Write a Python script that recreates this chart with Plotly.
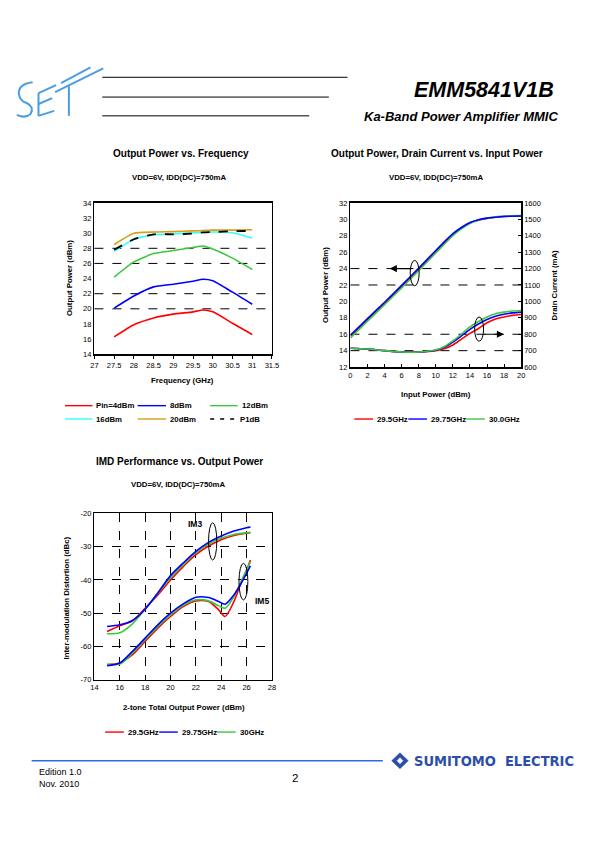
import plotly.graph_objects as go

# page is 595x842; the HTML body has an 8px margin, so the figure is 579x826 placed at (8, 8)
PAGE_W, PAGE_H = 595, 842
OFF = 8
W, H = PAGE_W - 2 * OFF, PAGE_H - 2 * OFF
def X(px): return (px - OFF) / W
def Y(py): return 1 - (py - OFF) / H

FONT = "Liberation Sans"
RED, BLUE, GREEN, CYAN, ORANGE = "#ff0000", "#0000ff", "#3cc83c", "#33ffff", "#d4a017"

# ---------------- Chart 1 data ----------------
freq = [27.5, 28, 28.5, 29, 29.5, 29.75, 30, 30.5, 31]
pout_4dbm = [16.3, 17.9, 18.8, 19.3, 19.6, 19.85, 19.6, 18.1, 16.6]
pout_8dbm = [20.1, 21.7, 22.9, 23.25, 23.65, 23.9, 23.7, 22.2, 20.6]
pout_12dbm = [24.2, 26.2, 27.3, 27.7, 28.1, 28.3, 27.9, 26.7, 25.2]
pout_16dbm = [27.6, 29.2, 29.8, 29.9, 30.05, 30.1, 30.15, 30.05, 29.35]
pout_20dbm = [28.5, 30.0, 30.15, 30.2, 30.3, 30.35, 30.4, 30.4, 30.45]
p1db = [27.8, 29.2, 29.85, 29.85, 29.95, 30.1, 30.15, 30.25, 30.3]
c1_grid = [20, 22, 26, 28]
c1_legend = ["Pin=4dBm", "8dBm", "12dBm", "16dBm", "20dBm", "P1dB"]

# ---------------- Chart 2 data ----------------
pin_out = [0, 2, 4, 6, 8, 10, 12, 13, 14, 15, 16, 17, 18, 20]
pout_295 = [15.75, 17.75, 19.75, 21.8, 23.9, 26.0, 28.1, 28.95, 29.55, 29.9, 30.1, 30.25, 30.35, 30.4]
pout_2975 = [15.9, 17.9, 19.9, 21.95, 24.05, 26.2, 28.25, 29.0, 29.6, 29.95, 30.15, 30.25, 30.35, 30.4]
pout_300 = [15.55, 17.6, 19.6, 21.65, 23.75, 25.9, 28.0, 28.85, 29.5, 29.9, 30.15, 30.3, 30.4, 30.45]
pin_id = [0, 2, 4, 6, 8, 10, 11, 12, 13, 14, 15, 16, 17, 18, 19, 20]
id_295 = [715, 710, 700, 692, 692, 700, 712, 735, 770, 805, 835, 870, 893, 905, 915, 920]
id_2975 = [715, 710, 700, 692, 692, 703, 720, 752, 790, 830, 862, 890, 910, 922, 930, 935]
id_300 = [715, 710, 700, 692, 692, 705, 725, 760, 800, 845, 878, 905, 925, 935, 942, 945]
c2_grid = [14, 16, 22, 24]
c2_legend = ["29.5GHz", "29.75GHz", "30.0GHz"]

# ---------------- Chart 3 data ----------------
pout_im3 = [15, 16, 17, 18, 19, 20, 21, 22, 23, 24, 25, 26, 26.3]
im3_295 = [-55.5, -53.8, -52.3, -48.5, -44.5, -40.0, -36.0, -32.4, -29.8, -27.9, -26.6, -25.9, -25.8]
im3_2975 = [-54.0, -53.5, -52.2, -48.8, -43.9, -38.7, -34.9, -31.4, -28.7, -26.8, -25.3, -24.3, -24.1]
im3_30 = [-56.2, -55.9, -53.2, -48.8, -44.0, -39.3, -35.4, -31.8, -29.2, -27.4, -26.3, -25.8, -25.7]
pout_im5 = [15, 16, 17, 18, 19, 20, 21, 22, 23, 23.8, 24.3, 25, 25.5, 26, 26.3]
im5_295 = [-65.5, -65.0, -62.5, -58.5, -54.5, -51.0, -48.0, -46.3, -46.5, -49.0, -51.0, -46.5, -41.5, -37.0, -34.0]
im5_2975 = [-65.8, -65.0, -61.5, -57.5, -53.5, -50.0, -47.2, -45.2, -45.3, -46.5, -47.3, -44.5, -41.5, -38.0, -35.8]
im5_30 = [-65.3, -65.3, -62.0, -58.0, -54.0, -50.5, -47.6, -46.0, -46.3, -47.8, -48.5, -45.0, -41.0, -37.0, -34.5]
c3_yticks = [-70, -60, -50, -40, -30, -20]
c3_yticklabels = ["-70", "-60", "-50", "-40", "-30", "-20"]
c3_legend = ["29.5GHz", "29.75GHz", "30GHz"]

fig = go.Figure()

def add(x, y, color, xa, ya, dash=None, smooth=0.6, width=1.6):
    fig.add_trace(go.Scatter(x=x, y=y, mode="lines", xaxis=xa, yaxis=ya, showlegend=False,
                             hoverinfo="skip",
                             line=dict(color=color, width=width, dash=dash, shape="spline", smoothing=smooth)))

# chart 1
add(freq, pout_4dbm, RED, "x", "y", smooth=0.5)
add(freq, pout_8dbm, BLUE, "x", "y", smooth=0.5)
add(freq, pout_12dbm, GREEN, "x", "y", smooth=0.5)
add(freq, pout_16dbm, CYAN, "x", "y", smooth=0.5)
add(freq, pout_20dbm, ORANGE, "x", "y", smooth=0.5)
add(freq, p1db, "black", "x", "y", dash="dash", smooth=0.5, width=1.8)
# chart 2
add(pin_out, pout_295, RED, "x2", "y2", smooth=0.8)
add(pin_out, pout_300, GREEN, "x2", "y2", smooth=0.8)
add(pin_out, pout_2975, BLUE, "x2", "y2", smooth=0.8)
add(pin_id, id_295, RED, "x2", "y3", smooth=0.8)
add(pin_id, id_2975, BLUE, "x2", "y3", smooth=0.8)
add(pin_id, id_300, GREEN, "x2", "y3", smooth=0.8)
# chart 3
add(pout_im3, im3_295, RED, "x3", "y4", smooth=0.8)
add(pout_im3, im3_30, GREEN, "x3", "y4", smooth=0.8)
add(pout_im3, im3_2975, BLUE, "x3", "y4", smooth=0.8)
add(pout_im5, im5_295, RED, "x3", "y4", smooth=0.8)
add(pout_im5, im5_30, GREEN, "x3", "y4", smooth=0.8)
add(pout_im5, im5_2975, BLUE, "x3", "y4", smooth=0.8)

tf = dict(family=FONT, size=7.5, color="black")
ax_common = dict(showline=True, linecolor="black", linewidth=1.5, mirror=True, zeroline=False,
                 showgrid=False, tickfont=tf, ticklen=3, tickcolor="black", fixedrange=True)

fig.update_layout(
    width=W, height=H, margin=dict(l=0, r=0, t=0, b=0),
    paper_bgcolor="white", plot_bgcolor="white", font=dict(family=FONT, color="black"),
    xaxis=dict(ax_common, domain=[X(92), X(273)], range=[27, 31.5], dtick=0.5, anchor="y", ticks="outside"),
    yaxis=dict(ax_common, domain=[Y(354), Y(201)], range=[14, 34], dtick=2, anchor="x", ticks=""),
    xaxis2=dict(ax_common, domain=[X(353), X(527)], range=[0, 20], dtick=2, anchor="y2", ticks="inside"),
    yaxis2=dict(ax_common, domain=[Y(367), Y(201)], range=[12, 32], dtick=2, anchor="x2", ticks=""),
    yaxis3=dict(ax_common, range=[600, 1600], dtick=100, overlaying="y2", side="right", anchor="x2",
                ticks="inside", mirror=False),
    xaxis3=dict(ax_common, domain=[X(92), X(273)], range=[14, 28], dtick=2, anchor="y4", ticks="",
                showgrid=True, gridcolor="black", griddash="dash", gridwidth=1),
    yaxis4=dict(ax_common, domain=[Y(683), Y(515)], range=[-70, -20], tickvals=c3_yticks,
                ticktext=c3_yticklabels, anchor="x3", ticks="",
                showgrid=True, gridcolor="black", griddash="dash", gridwidth=1),
)

shapes = []
for g in c1_grid:
    shapes.append(dict(type="line", xref="x domain", yref="y", x0=0, x1=1, y0=g, y1=g,
                       line=dict(color="black", width=1, dash="dash"), layer="below"))
for g in c2_grid:
    shapes.append(dict(type="line", xref="x2 domain", yref="y2", x0=0, x1=1, y0=g, y1=g,
                       line=dict(color="black", width=1, dash="dash"), layer="below"))
# chart 2 marker ellipses
shapes.append(dict(type="circle", xref="x2", yref="y2", x0=7.0, x1=8.05, y0=21.9, y1=25.0,
                   line=dict(color="black", width=1)))
shapes.append(dict(type="circle", xref="x2", yref="y2", x0=14.55, x1=15.6, y0=15.15, y1=18.1,
                   line=dict(color="black", width=1)))
# chart 3 marker ellipses
shapes.append(dict(type="circle", xref="x3", yref="y4", x0=23.0, x1=23.65, y0=-34.0, y1=-22.8,
                   line=dict(color="black", width=1)))
shapes.append(dict(type="circle", xref="x3", yref="y4", x0=25.4, x1=26.1, y0=-46.0, y1=-35.0,
                   line=dict(color="black", width=1)))

anns = []
def text(px, py, s, size=7.5, bold=True, xanchor="center", angle=0, italic=False, color="black", family=FONT):
    t = s
    if bold: t = "<b>" + t + "</b>"
    if italic: t = "<i>" + t + "</i>"
    anns.append(dict(x=X(px), y=Y(py), xref="paper", yref="paper", text=t, showarrow=False,
                     xanchor=xanchor, yanchor="middle", textangle=angle,
                     font=dict(family=family, size=size, color=color)))

# chart 2 arrows
anns.append(dict(x=4.6, y=24, ax=7.3, ay=24, xref="x2", yref="y2", axref="x2", ayref="y2", text="",
                 showarrow=True, arrowhead=2, arrowsize=1.2, arrowwidth=1.2, arrowcolor="black"))
anns.append(dict(x=18.0, y=16, ax=15.5, ay=16, xref="x2", yref="y2", axref="x2", ayref="y2", text="",
                 showarrow=True, arrowhead=2, arrowsize=1.2, arrowwidth=1.2, arrowcolor="black"))
# chart 3 labels
anns.append(dict(x=21.9, y=-23.2, xref="x3", yref="y4", text="<b>IM3</b>", showarrow=False,
                 font=dict(family=FONT, size=8.5)))
anns.append(dict(x=27.2, y=-46.3, xref="x3", yref="y4", text="<b>IM5</b>", showarrow=False,
                 font=dict(family=FONT, size=8.5)))

# titles
text(180, 151, "Output Power vs. Frequency", size=10)
text(179, 175, "VDD=6V, IDD(DC)=750mA", size=7.8)
text(441, 151, "Output Power, Drain Current vs. Input Power", size=10)
text(441, 175, "VDD=6V, IDD(DC)=750mA", size=7.8)
text(179, 462, "IMD Performance vs. Output Power", size=10)
text(178, 486, "VDD=6V, IDD(DC)=750mA", size=7.8)

# axis titles
text(182, 381, "Frequency (GHz)", size=7.8)
text(66, 277, "Output Power (dBm)", size=7.8, angle=-90)
text(440, 395, "Input Power (dBm)", size=7.8)
text(328, 284, "Output Power (dBm)", size=7.8, angle=-90)
text(561, 284, "Drain Current (mA)", size=7.8, angle=-90)
text(183, 711, "2-tone Total Output Power (dBm)", size=7.8)
text(64, 600, "Inter-modulation Distortion (dBc)", size=7.8, angle=-90)

# legends (drawn)
def leg(x0, x1, py, color, label, dash=None):
    shapes.append(dict(type="line", xref="paper", yref="paper", x0=X(x0), x1=X(x1), y0=Y(py), y1=Y(py),
                       line=dict(color=color, width=1.4, dash=dash)))
    text(x1 + 2, py, label, size=7.8, xanchor="left")

leg(62, 90, 406, RED, c1_legend[0])
leg(136, 165, 406, BLUE, c1_legend[1])
leg(210, 238, 406, GREEN, c1_legend[2])
leg(62, 90, 419.5, CYAN, c1_legend[3])
leg(136, 165, 419.5, ORANGE, c1_legend[4])
leg(210, 236, 419.5, "black", c1_legend[5], dash="4px,6px")

leg(357, 376, 419.5, RED, c2_legend[0])
leg(412, 431, 419.5, BLUE, c2_legend[1])
leg(471, 490, 419.5, GREEN, c2_legend[2])

leg(103, 122, 736, RED, c3_legend[0])
leg(158, 177, 736, BLUE, c3_legend[1])
leg(217, 236, 736, GREEN, c3_legend[2])

# header
for (xa, xb, yy) in [(100, 350, 74), (100, 331, 94), (100, 311, 113)]:
    shapes.append(dict(type="line", xref="paper", yref="paper", x0=X(xa), x1=X(xb), y0=Y(yy), y1=Y(yy),
                       line=dict(color="black", width=1)))
text(563, 87, "EMM5841V1B", size=21.5, xanchor="right", italic=True)
text(567, 114, "Ka-Band Power Amplifier MMIC", size=13, xanchor="right", italic=True)

def path(pts_cmds):
    out = []
    for c in pts_cmds:
        if isinstance(c, str):
            out.append(c)
        else:
            out.append(f"{X(c[0]):.5f},{Y(c[1]):.5f}")
    return " ".join(out)

LOGO = "#4a9de0"
logo_paths = [
    ["M", (29, 79), "Q", (14, 81), (15, 91), "Q", (16, 98), (23, 100), "Q", (31, 104), (27, 111), "Q", (22, 116), (13, 112)],
    ["M", (35, 90), "L", (35, 113)],
    ["M", (35, 90), "L", (53, 82)],
    ["M", (35, 101), "L", (49, 95)],
    ["M", (35, 113), "L", (51, 108)],
    ["M", (66, 83), "L", (66, 113)],
    ["M", (52, 89), "L", (101, 65)],
    ["M", (58, 80), "L", (88, 64)],
]
for p in logo_paths:
    shapes.append(dict(type="path", xref="paper", yref="paper", path=path(p),
                       line=dict(color=LOGO, width=2)))

# footer
shapes.append(dict(type="line", xref="paper", yref="paper", x0=X(28), x1=X(386), y0=Y(765), y1=Y(765),
                   line=dict(color="#3366ee", width=1.6)))
SUMI = "#2b4fa8"
shapes.append(dict(type="path", xref="paper", yref="paper",
                   path=path(["M", (395, 765), "L", (403.5, 757), "L", (412, 765), "L", (403.5, 773), "Z"]),
                   fillcolor=SUMI, line=dict(color=SUMI, width=0.5)))
shapes.append(dict(type="path", xref="paper", yref="paper",
                   path=path(["M", (400.5, 765), "L", (403.5, 762), "L", (406.5, 765), "L", (403.5, 768), "Z"]),
                   fillcolor="white", line=dict(color="white", width=0.5)))
text(416, 765, "SUMITOMO  ELECTRIC", size=14.5, xanchor="left", bold=True, color=SUMI,
     family="Liberation Sans Narrow, DejaVu Sans Condensed")
text(33, 776, "Edition 1.0", size=9, bold=False, xanchor="left")
text(33, 789, "Nov. 2010", size=9, bold=False, xanchor="left")
text(296, 782, "2", size=11.5, bold=False)

fig.update_layout(shapes=shapes, annotations=anns, hovermode=False)
fig.write_html("out.html", config={"displayModeBar": False, "staticPlot": True})
